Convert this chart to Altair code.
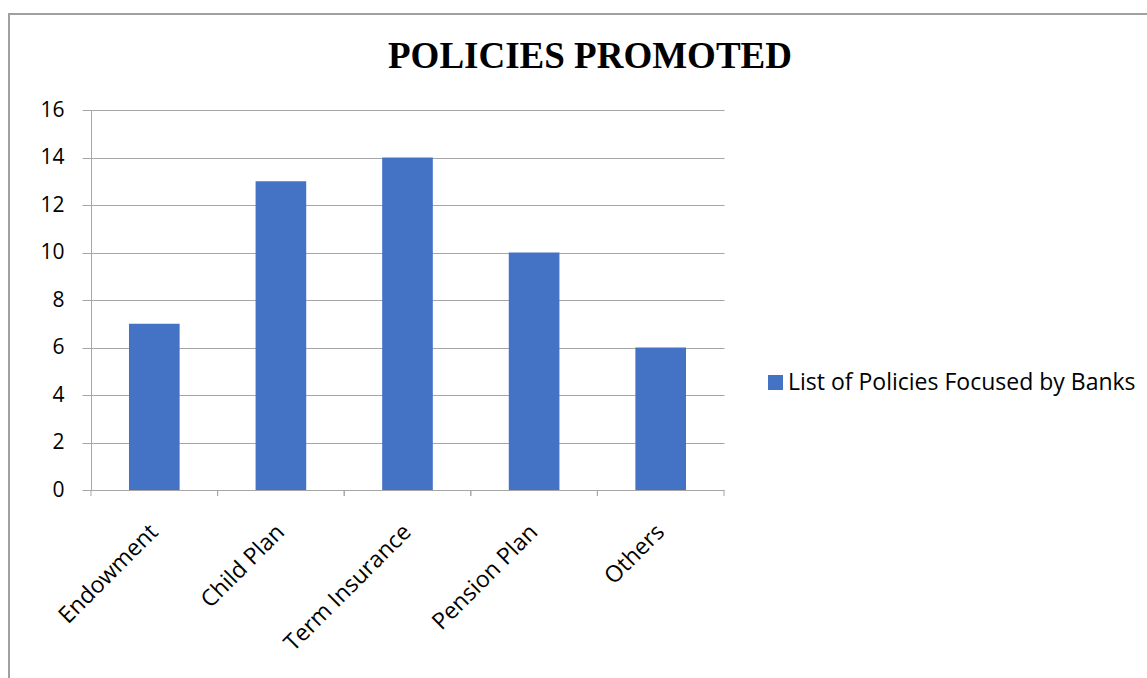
import altair as alt
import pandas as pd

categories = ["Endowment", "Child Plan", "Term Insurance", "Pension Plan", "Others"]
values = [7, 13, 14, 10, 6]
series_name = "List of Policies Focused by Banks"
y_ticks = [0, 2, 4, 6, 8, 10, 12, 14, 16]
title_text = "POLICIES PROMOTED"

df = pd.DataFrame({"category": categories, "value": values, "series": series_name})
one = pd.DataFrame({"t": [title_text]})

GRAY = "#a6a6a6"
FONT = "Open Sans"

x_scale = alt.Scale(paddingInner=0.6, paddingOuter=0.3)

bars = alt.Chart(df).mark_bar(color="#4472C4").encode(
    x=alt.X(
        "category:N",
        sort=categories,
        title=None,
        scale=x_scale,
        axis=alt.Axis(
            labelAngle=-45,
            labelAlign="right",
            labelBaseline="middle",
            labelFontSize=23,
            labelFont=FONT,
            labelColor="#000000",
            labelPadding=38,
            domainColor=GRAY,
            ticks=False,
            grid=False,
        ),
    ),
    y=alt.Y(
        "value:Q",
        title=None,
        scale=alt.Scale(domain=[0, 16], nice=False),
        axis=alt.Axis(
            values=y_ticks,
            labelFontSize=21,
            labelFont=FONT,
            labelColor="#000000",
            labelPadding=18,
            tickSize=9,
            tickColor=GRAY,
            domainColor=GRAY,
            gridColor=GRAY,
            gridWidth=1,
        ),
    ),
    fill=alt.Fill(
        "series:N",
        scale=alt.Scale(range=["#4472C4"]),
        legend=alt.Legend(
            title=None,
            orient="none",
            legendX=673,
            legendY=261,
            symbolType="square",
            symbolSize=225,
            symbolStrokeWidth=0,
            labelOffset=1,
            labelFontSize=23,
            labelFont=FONT,
            labelColor="#000000",
            labelLimit=500,
        ),
    ),
)

tick_left = alt.Chart(df).mark_rule(color=GRAY, strokeWidth=1, xOffset=-38).encode(
    x=alt.X("category:N", sort=categories, bandPosition=0, title=None, scale=x_scale),
    y=alt.value(380),
    y2=alt.value(386),
)
tick_right = alt.Chart(df).mark_rule(color=GRAY, strokeWidth=1, xOffset=38).encode(
    x=alt.X("category:N", sort=categories, bandPosition=1, title=None, scale=x_scale),
    y=alt.value(380),
    y2=alt.value(386),
)

title = alt.Chart(one).mark_text(
    font="Liberation Serif",
    fontSize=37,
    fontWeight="bold",
    color="#000000",
    align="center",
    baseline="alphabetic",
).encode(
    text="t:N",
    x=alt.value(499),
    y=alt.value(-42),
)

border = alt.Chart(one).mark_rect(fill=None, stroke="#a0a0a0", strokeWidth=2).encode(
    x=alt.value(-82), x2=alt.value(1300), y=alt.value(-96), y2=alt.value(700)
)

chart = alt.layer(border, bars, tick_left, tick_right, title).properties(
    width=633,
    height=380,
    padding={"left": 91, "top": 110, "right": 423, "bottom": 188},
    autosize=alt.AutoSizeParams(type="none"),
).configure_view(stroke=None)

chart.save("out.html", embed_options={"renderer": "svg", "actions": False})
